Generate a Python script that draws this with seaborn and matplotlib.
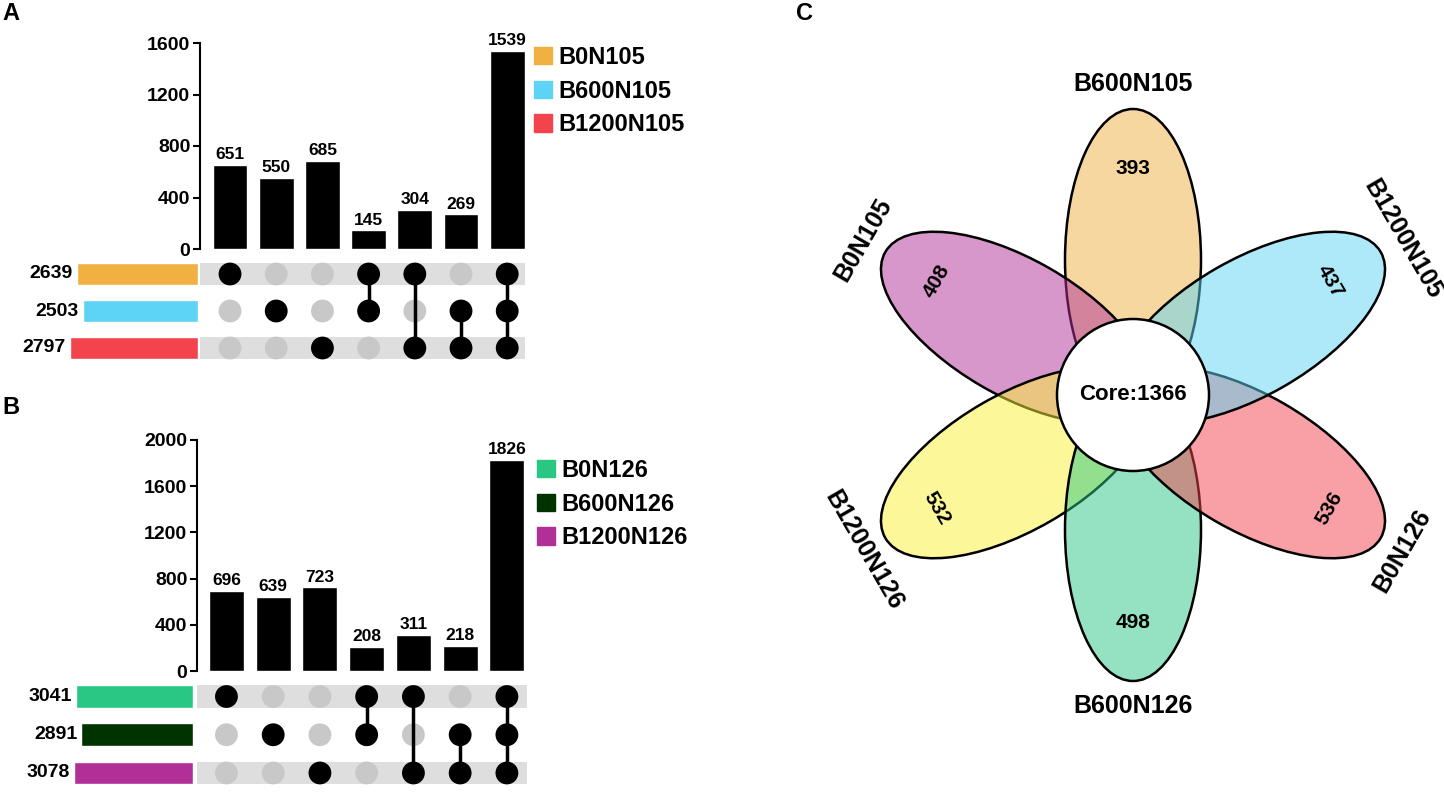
import numpy as np
import pandas as pd
import matplotlib
matplotlib.use('Agg')
import matplotlib.pyplot as plt
from matplotlib.patches import Ellipse, Circle, Patch
import seaborn as sns

# Panel A: upset data
sets_a = ['B0N105', 'B600N105', 'B1200N105']
set_sizes_a = [2639, 2503, 2797]
colors_a = ['#F0B142', '#5DD4F5', '#F3434C']
inter_a = [651, 550, 685, 145, 304, 269, 1539]

# Panel B: upset data
sets_b = ['B0N126', 'B600N126', 'B1200N126']
set_sizes_b = [3041, 2891, 3078]
colors_b = ['#2AC784', '#003300', '#B03098']
inter_b = [696, 639, 723, 208, 311, 218, 1826]

# which sets (row index) take part in each intersection column
members = [[0], [1], [2], [0, 1], [0, 2], [1, 2], [0, 1, 2]]

# Panel C: flower plot, petals counter-clockwise from the top
petal_labels = ['B600N105', 'B0N105', 'B1200N126', 'B600N126', 'B0N126', 'B1200N105']
petal_counts = [393, 408, 532, 498, 536, 437]
petal_colors = ['#F0B142', '#B03098', '#FBF337', '#2AC784', '#F3434C', '#5DD4F5']
core_count = 1366

sns.set_theme(style='white', rc={'text.color': 'black', 'axes.labelcolor': 'black',
                                 'xtick.color': 'black', 'ytick.color': 'black',
                                 'axes.edgecolor': 'black'})
plt.rcParams['font.family'] = ['Liberation Sans', 'DejaVu Sans']
plt.rcParams['font.weight'] = 'bold'

W, H = 1444, 792
fig = plt.figure(figsize=(W / 100, H / 100), dpi=100)


def px_axes(left, top, right, bottom):
    return fig.add_axes([left / W, 1 - bottom / H, (right - left) / W, (bottom - top) / H])


def upset(bar_box, mat_box, set_box, sets, sizes, colors, inter, ymax, xlim, setmax):
    ax_bar = px_axes(*bar_box)
    ax_mat = px_axes(*mat_box)
    ax_set = px_axes(*set_box)
    cols = list(range(len(inter)))
    n = len(sets)

    # intersection sizes
    sns.barplot(x=cols, y=inter, color='black', width=0.75, saturation=1, ax=ax_bar)
    ax_bar.bar_label(ax_bar.containers[0], padding=2, fontsize=12.5, fontweight='bold',
                     color='black')
    ax_bar.set_xlim(*xlim)
    ax_bar.set_ylim(0, ymax)
    ax_bar.set_yticks(np.arange(0, ymax + 1, 400))
    ax_bar.set_xticks([])
    ax_bar.set_xlabel('')
    ax_bar.set_ylabel('')
    for s in ['top', 'right', 'bottom']:
        ax_bar.spines[s].set_visible(False)
    ax_bar.spines['left'].set_color('black')
    ax_bar.spines['left'].set_linewidth(1.5)
    ax_bar.tick_params(axis='y', left=True, length=5, width=1.5, color='black',
                       labelsize=14, pad=2, labelcolor='black')

    # matrix
    for r in range(0, n, 2):
        ax_mat.axhspan(r - 0.3, r + 0.3, color='#DEDEDE', zorder=0, lw=0)
    pts = pd.DataFrame([(c, r, r in members[c]) for c in cols for r in range(n)],
                       columns=['col', 'row', 'on'])
    sns.scatterplot(data=pts, x='col', y='row', hue='on',
                    palette={True: 'black', False: '#C8C8C8'}, s=270, linewidth=0,
                    legend=False, ax=ax_mat, zorder=3)
    for c in cols:
        m = members[c]
        if len(m) > 1:
            ax_mat.plot([c, c], [min(m), max(m)], color='black', lw=2.5, zorder=4)
    ax_mat.set_xlim(*xlim)
    ax_mat.set_ylim(n - 0.5, -0.5)
    ax_mat.axis('off')

    # set sizes
    sns.barplot(x=sizes, y=sets, hue=sets, palette=colors, orient='h', width=0.6,
                saturation=1, legend=False, ax=ax_set)
    for r, v in enumerate(sizes):
        ax_set.annotate(str(v), (v, r), xytext=(-3, 0), textcoords='offset points',
                        ha='right', va='center', fontsize=14, fontweight='bold',
                        color='black')
    ax_set.set_xlim(setmax, 0)
    ax_set.set_ylim(n - 0.5, -0.5)
    ax_set.axis('off')


upset((200, 43, 525, 249), (200, 255.5, 525, 366.5), (0, 255.5, 198, 366.5),
      sets_a, set_sizes_a, colors_a, inter_a, 1600, (-0.65, 6.385), 4313)
upset((197, 440, 527, 671), (197, 677.4, 527, 792.1), (0, 677.4, 193, 792.1),
      sets_b, set_sizes_b, colors_b, inter_b, 2000, (-0.63, 6.43), 5000)

for cols_, names_, top_, left_ in [(colors_a, sets_a, 46, 534), (colors_b, sets_b, 459, 537)]:
    fig.legend([Patch(color=c) for c in cols_], names_, loc='upper left',
               bbox_to_anchor=(left_ / W, 1 - top_ / H), frameon=False, fontsize=17,
               handlelength=0.75, handleheight=0.75, handletextpad=0.3, labelspacing=0.45,
               borderpad=0, borderaxespad=0, labelcolor='black')

# flower plot
ax_c = px_axes(800, 0, 1444, 792)
ax_c.set_xlim(800 - 1133, 1444 - 1133)
ax_c.set_ylim(-(792 - 395), 395)
ax_c.axis('off')
for i, (lab, cnt, col) in enumerate(zip(petal_labels, petal_counts, petal_colors)):
    ang = 90 + 60 * i
    t = np.deg2rad(ang)
    ax_c.add_patch(Ellipse((135 * np.cos(t), 135 * np.sin(t)), 302, 136, angle=ang,
                           facecolor=matplotlib.colors.to_rgba(col, 0.5),
                           edgecolor='black', lw=1.8, zorder=2 + i))
    rot = (ang - 90) % 180
    if rot > 90:
        rot -= 180
    ax_c.text(227 * np.cos(t), 227 * np.sin(t), str(cnt), rotation=rot,
              rotation_mode='anchor', ha='center', va='center', fontsize=15,
              fontweight='bold', color='black', zorder=20)
    ax_c.text(311 * np.cos(t), 311 * np.sin(t), lab, rotation=rot,
              rotation_mode='anchor', ha='center', va='center', fontsize=18,
              fontweight='bold', color='black', zorder=20)
ax_c.add_patch(Circle((0, 0), 76, facecolor='white', edgecolor='black', lw=1.8, zorder=15))
ax_c.text(0, 0, f'Core:{core_count}', ha='center', va='center', fontsize=16,
          fontweight='bold', color='black', zorder=20)

fig.text(2 / W, 1 - 14 / H, 'A', fontsize=17, fontweight='bold', va='center', color='black')
fig.text(2 / W, 1 - 408 / H, 'B', fontsize=17, fontweight='bold', va='center', color='black')
fig.text(796 / W, 1 - 14 / H, 'C', fontsize=17, fontweight='bold', va='center', color='black')

fig.savefig('out.png', dpi=100)
